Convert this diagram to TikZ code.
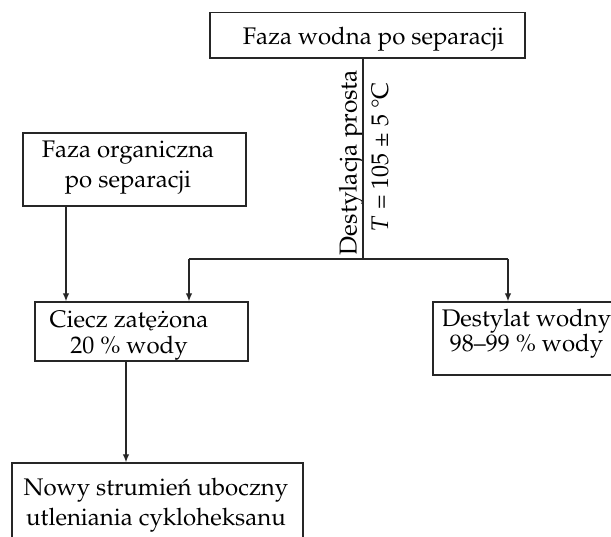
\documentclass[tikz,border=0pt]{standalone}
\usepackage[T1]{fontenc}
\usepackage{mathpazo}
\usepackage{textcomp}
\usetikzlibrary{arrows.meta}
\begin{document}
\begin{tikzpicture}[x=1pt,y=-1pt,
  box/.style={draw=black!85, line width=1.3pt, inner sep=0pt},
  lbl/.style={anchor=base, inner sep=0pt, align=center, font=\fontsize{24}{30}\selectfont},
  conn/.style={draw=black!85, line width=1.3pt},
  arr/.style={conn, -{Latex[length=8pt,width=6.5pt]}}]
\useasboundingbox (0,0) rectangle (611,537);
\clip (0,0) rectangle (611,537);
% boxes
\node[box, minimum width=315pt, minimum height=45.3pt] (top) at (367.5,35.35) {};
\node[box, minimum width=223pt, minimum height=73pt] (org) at (134.5,169.5) {};
\node[box, minimum width=213pt, minimum height=59pt] (ciecz) at (141.5,331.5) {};
\node[box, minimum width=186pt, minimum height=73pt] (dest) at (526,338.5) {};
\node[box, minimum width=291pt, minimum height=83pt] (nowy) at (157.5,504.5) {};
% texts (base anchor = baseline of the last line)
\node[lbl] (t1) at (373.5,45) {Faza wodna po separacji};
\node[lbl] (t2) at (128,188) {Faza organiczna\\po separacji};
\node[lbl, font=\fontsize{24}{26}\selectfont] (t3) at (129,354) {Ciecz zat\k{e}\.{z}ona\\20~\% wody};
\node[lbl, font=\fontsize{24}{25}\selectfont] (t4) at (526.5,352) {Destylat wodny\\98--99~\% wody};
\node[lbl] (t5) at (156,525) {Nowy strumie\'{n} uboczny\\utleniania cykloheksanu};
\node[lbl, rotate=90, font=\fontsize{24.5}{29}\selectfont] (d1) at (356.5,162.5) {Destylacja prosta};
\node[lbl, rotate=90] (d2) at (388,157) {$T$~=~105~\textpm~5~\textdegree C};
% connectors
\coordinate (split) at (363,259);
\coordinate (hl) at (189,259);
\coordinate (hr) at (508,259);
\coordinate (ox) at (66,0);
\coordinate (cx) at (126,0);
\draw[conn] (top.south -| split) -- (split);
\draw[conn] (hl) -- (hr);
\draw[arr] (hl) -- (hl |- ciecz.north);
\draw[arr] (hr) -- (hr |- dest.north);
\draw[arr] (org.south -| ox) -- (ciecz.north -| ox);
\draw[arr] (ciecz.south -| cx) -- (nowy.north -| cx);
\end{tikzpicture}
\end{document}
